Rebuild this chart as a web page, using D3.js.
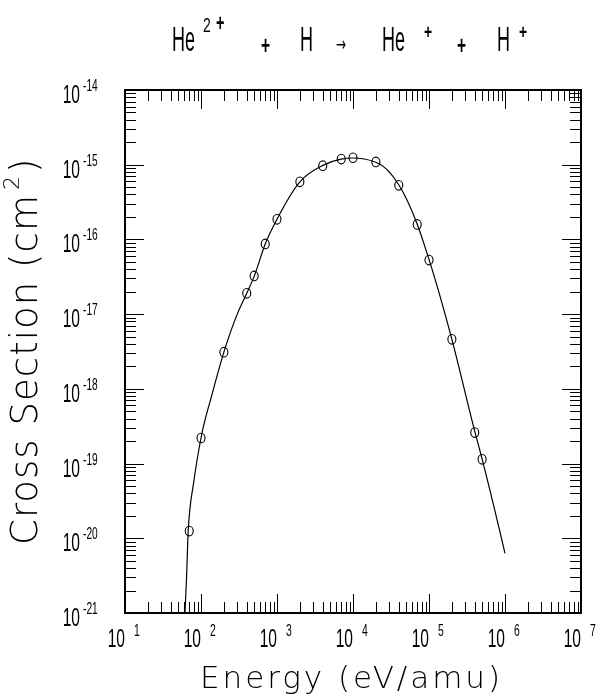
<!DOCTYPE html>
<html><head><meta charset="utf-8">
<script src="https://cdn.jsdelivr.net/npm/d3@7"></script>
<style>
body{margin:0;background:#fff;}
svg{display:block;}
text{font-family:"Liberation Sans","DejaVu Sans",sans-serif;fill:#000;}
.lt{font-family:"DejaVu Sans";font-weight:200;}
.dv{font-family:"DejaVu Sans";}
</style></head>
<body>
<script>
// Measured points (energy eV/amu, cross section cm^2)
const energies = [70,100,200,400,500,700,1000,2000,4000,7000,1e4,2e4,4e4,7e4,1e5,2e5,4e5,5e5];
const sigmas = [1.25e-20,2.2e-19,3.1e-18,1.9e-17,3.25e-17,8.7e-17,1.86e-16,5.9e-16,9.7e-16,1.19e-15,1.24e-15,1.09e-15,5.3e-16,1.59e-16,5.3e-17,4.6e-18,2.6e-19,1.14e-19];
// Fitted curve
const fitEnergies = [61.5,64.4,68,81,100,140,200,300,400,500,700,1000,2000,4000,7000,1e4,2e4,4e4,7e4,1e5,2e5,4e5,5e5,1e6];
const fitSigmas = [1e-21,2.8e-21,1.3e-20,6.0e-20,2.2e-19,8.5e-19,3.1e-18,1.0e-17,1.9e-17,3.2e-17,8.7e-17,1.86e-16,5.9e-16,9.8e-16,1.19e-15,1.23e-15,1.08e-15,5.4e-16,1.6e-16,5.4e-17,4.6e-18,2.7e-19,1.15e-19,6.3e-21];
const xDecades = [1,2,3,4,5,6,7];
const yDecades = [-14,-15,-16,-17,-18,-19,-20,-21];
const titleParts = ["He","2","+","+","H","→","He","+","+","H","+"];
const xLabel = "Energy (eV/amu)";
const yLabel = "Cross Section (cm";

const W=598,H=696;
const L=125,R=581,T=90,B=613;
const svg=d3.select("body").append("svg").attr("width",W).attr("height",H);
svg.append("defs").append("filter").attr("id","gray")
 .append("feColorMatrix").attr("type","saturate").attr("values",0);
const x=d3.scaleLog().domain([10,1e7]).range([L,R]);
const y=d3.scaleLog().domain([1e-21,1e-14]).range([B,T]);

// ticks
const g=svg.append("g").attr("stroke","#000").attr("stroke-width",1).attr("shape-rendering","crispEdges");
const xt=[];
for(let d=1;d<7;d++){for(let m=1;m<10;m++){xt.push({v:m*Math.pow(10,d),maj:m===1});}}
xt.push({v:1e7,maj:true});
xt.forEach(t=>{const px=Math.round(x(t.v))+0.5;const len=t.maj?19:11;
 g.append("line").attr("x1",px).attr("x2",px).attr("y1",B).attr("y2",B-len);
 g.append("line").attr("x1",px).attr("x2",px).attr("y1",T).attr("y2",T+len);});
const yt=[];
for(let d=-21;d<-14;d++){for(let m=1;m<10;m++){yt.push({v:m*Math.pow(10,d),maj:m===1});}}
yt.forEach(t=>{const py=Math.round(y(t.v))+0.5;const len=t.maj?19:11;
 g.append("line").attr("y1",py).attr("y2",py).attr("x1",L).attr("x2",L+len);
 g.append("line").attr("y1",py).attr("y2",py).attr("x1",R).attr("x2",R-len);});

svg.append("rect").attr("x",L).attr("y",T).attr("width",R-L).attr("height",B-T)
 .attr("fill","none").attr("stroke","#000").attr("stroke-width",2.5).attr("shape-rendering","crispEdges");

// curve
const line=d3.line().x((d,i)=>x(fitEnergies[i])).y((d,i)=>y(fitSigmas[i])).curve(d3.curveMonotoneX);
svg.append("path").attr("d",line(fitEnergies)).attr("fill","none").attr("stroke","#000").attr("stroke-width",1.2);

// points
svg.selectAll("ellipse.pt").data(energies).join("ellipse").attr("class","pt")
 .attr("cx",(d)=>x(d)).attr("cy",(d,i)=>y(sigmas[i])).attr("rx",4).attr("ry",4.8)
 .attr("fill","none").attr("stroke","#000").attr("stroke-width",1.1);

const txt=svg.append("g").attr("filter","url(#gray)");
function stext(px,py,sx,str,size,anchor,weight,cls){
 const gg=txt.append("g").attr("transform",`translate(${px},${py}) scale(${sx},1)`);
 const t=gg.append("text").attr("font-size",size).attr("text-anchor",anchor||"start").text(str);
 if(cls) t.attr("class",cls);
 t.attr("font-weight",weight||null);
 return t;
}
// x tick labels
xDecades.forEach(d=>{const px=x(Math.pow(10,d));
 stext(px,647,0.6,"10",26,"end");
 stext(px+9,636,0.65,String(d),16,"start");});
// y tick labels
yDecades.forEach(d=>{const py=y(Math.pow(10,d));
 stext(80,py+13,0.6,"10",26,"end");
 stext(83,py+1,0.6,"-"+String(-d),17,"start");});

// title: [x, baseline, size, scaleX, weight, class]
const tp=[[172,51,36,0.5,null,null],[203,32,20,0.7,null,null],[216,31,24,0.6,"bold",null],
 [261,54,26,0.6,"bold",null],[300,51,36,0.5,null,null],[336,51,20,0.6,null,"dv"],
 [382,51,36,0.5,null,null],[424,39,20,0.7,"bold",null],[457,54,26,0.6,"bold",null],
 [497,51,36,0.5,null,null],[519,39,20,0.7,"bold",null]];
titleParts.forEach((s,i)=>{stext(tp[i][0],tp[i][1],tp[i][3],s,tp[i][2],"start",tp[i][4],tp[i][5]);});

// x label
txt.append("text").attr("class","lt").attr("x",200).attr("y",688).attr("font-size",31)
 .attr("textLength",300).attr("lengthAdjust","spacing").text(xLabel);

// y label
const yg=txt.append("g").attr("transform","translate(37,545) rotate(-90)");
yg.append("text").attr("class","lt").attr("x",0).attr("y",0).attr("font-size",37).attr("textLength",350).attr("lengthAdjust","spacing").text(yLabel);
yg.append("text").attr("class","lt").attr("x",355).attr("y",-18).attr("font-size",22).text("2");
yg.append("text").attr("class","lt").attr("x",372).attr("y",0).attr("font-size",37).text(")");
</script>
</body></html>
